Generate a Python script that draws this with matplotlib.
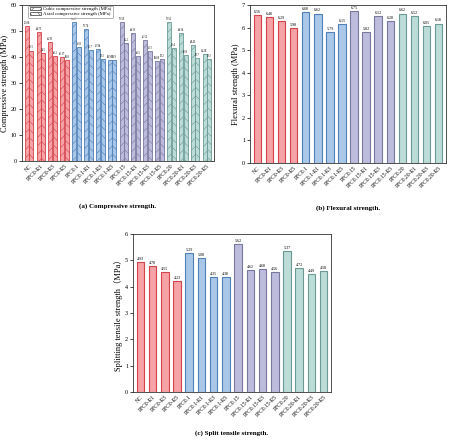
import numpy as np
import matplotlib
matplotlib.use("Agg")
import matplotlib.pyplot as plt

plt.rcParams['font.family'] = ['Liberation Serif', 'Noto Sans CJK SC']
plt.rcParams['hatch.linewidth'] = 0.4

# 数据
labels = ['NC', 'PFC0-R1', 'PFC0-R3', 'PFC0-R5',
          'PFC0.1', 'PFC0.1-R1', 'PFC0.1-R3', 'PFC0.1-R5',
          'PFC0.15', 'PFC0.15-R1', 'PFC0.15-R3', 'PFC0.15-R5',
          'PFC0.20', 'PFC0.20-R1', 'PFC0.20-R3', 'PFC0.20-R5']
cubic = [52.08, 49.73, 45.93, 40.17, 53.27, 50.74, 42.94, 38.9,
         53.59, 49.31, 46.52, 38.6, 53.52, 49.34, 44.45, 41.28]
axial = [42.5, 41.5, 40.2, 38.8, 43.8, 42.7, 39.3, 38.9,
         45.2, 40.5, 42.3, 39.2, 43.4, 40.8, 39.7, 39.3]
flexural = [6.56, 6.48, 6.29, 5.98, 6.68, 6.62, 5.79, 6.15,
            6.75, 5.82, 6.52, 6.28, 6.62, 6.52, 6.05, 6.18]
split = [4.93, 4.78, 4.55, 4.23, 5.29, 5.08, 4.35, 4.38,
         5.62, 4.62, 4.68, 4.56, 5.37, 4.72, 4.49, 4.58]

fills = ['#f5a3a6'] * 4 + ['#a9c7e8'] * 4 + ['#bdbcdc'] * 4 + ['#bcdcd8'] * 4
edges = ['#d4424a'] * 4 + ['#4f80b8'] * 4 + ['#78779e'] * 4 + ['#6b9a94'] * 4

x = np.arange(len(labels))
W, H = 450, 441
fig = plt.figure(figsize=(4.5, 4.41), dpi=100)


def box(l, t, r, b):
    return [l / W, 1 - b / H, (r - l) / W, (b - t) / H]


def style(ax, ymax, ylabel):
    ax.set_xlim(-0.6, len(labels) - 0.4)
    ax.set_ylim(0, ymax)
    ax.set_xticks(x)
    ax.set_xticklabels(labels, rotation=45, ha='right', rotation_mode='anchor', fontsize=4)
    ax.tick_params(axis='y', labelsize=4.5, length=2, width=0.5, pad=1.5)
    ax.tick_params(axis='x', length=0, pad=2)
    ax.set_ylabel(ylabel, fontsize=6, labelpad=1.5)
    for s in ax.spines.values():
        s.set_linewidth(0.6)
        s.set_color('#333333')


# (a) 抗压强度
ax1 = fig.add_axes(box(22, 5, 214, 161))
w = 0.34
ax1.bar(x - w / 2 - 0.03, cubic, w, color=fills, edgecolor=edges, linewidth=0.6,
        hatch='////', label='Cubic compressive strength (MPa)')
ax1.bar(x + w / 2 + 0.03, axial, w, color=fills, edgecolor=edges, linewidth=0.6,
        hatch='\\\\\\\\', label='Axial compressive strength (MPa)')
for xi, v in zip(x, cubic):
    ax1.text(xi - w / 2 - 0.03, v + 0.4, f'{v:.2f}', ha='center', va='bottom', fontsize=2)
for xi, v in zip(x, axial):
    ax1.text(xi + w / 2 + 0.03, v + 0.4, f'{v:.1f}', ha='center', va='bottom', fontsize=2)
style(ax1, 60, 'Compressive strength (MPa)')
ax1.set_yticks(range(0, 61, 10))
leg = ax1.legend(loc='upper left', fontsize=3.5, frameon=True, borderpad=0.25,
                 handlelength=2.4, handleheight=0.7, labelspacing=0.15,
                 handletextpad=0.4, borderaxespad=0.15,
                 bbox_to_anchor=(0.03, 1.0))
for h in leg.legend_handles:
    h.set_facecolor('white')
    h.set_edgecolor('#555555')
leg.get_frame().set_linewidth(0.4)
leg.get_frame().set_edgecolor('#555555')
fig.text((22 + 214) / 2 / W, 1 - 206 / H, '(a) Compressive strength.', ha='center',
         va='center', fontsize=5, fontweight='bold')

# (b) 抗折强度
ax2 = fig.add_axes(box(250, 5, 446, 163))
ax2.bar(x, flexural, 0.62, color=fills, edgecolor=edges, linewidth=0.8)
for xi, v in zip(x, flexural):
    ax2.text(xi, v + 0.05, f'{v:.2f}', ha='center', va='bottom', fontsize=3)
style(ax2, 7, 'Flexural strength (MPa)')
ax2.set_yticks(range(0, 8))
fig.text((250 + 446) / 2 / W, 1 - 208 / H, '(b) Flexural strength.', ha='center',
         va='center', fontsize=5, fontweight='bold')

# (c) 劈裂抗拉强度
ax3 = fig.add_axes(box(133, 234, 331, 392))
ax3.bar(x, split, 0.62, color=fills, edgecolor=edges, linewidth=0.8)
for xi, v in zip(x, split):
    ax3.text(xi, v + 0.04, f'{v:.2f}', ha='center', va='bottom', fontsize=3)
style(ax3, 6, 'Splitting tensile strength（MPa）')
ax3.set_yticks(range(0, 7))
fig.text((133 + 331) / 2 / W, 1 - 433 / H, '(c) Split tensile strength.', ha='center',
         va='center', fontsize=5, fontweight='bold')

fig.savefig('out.png', dpi=100, facecolor='white')
